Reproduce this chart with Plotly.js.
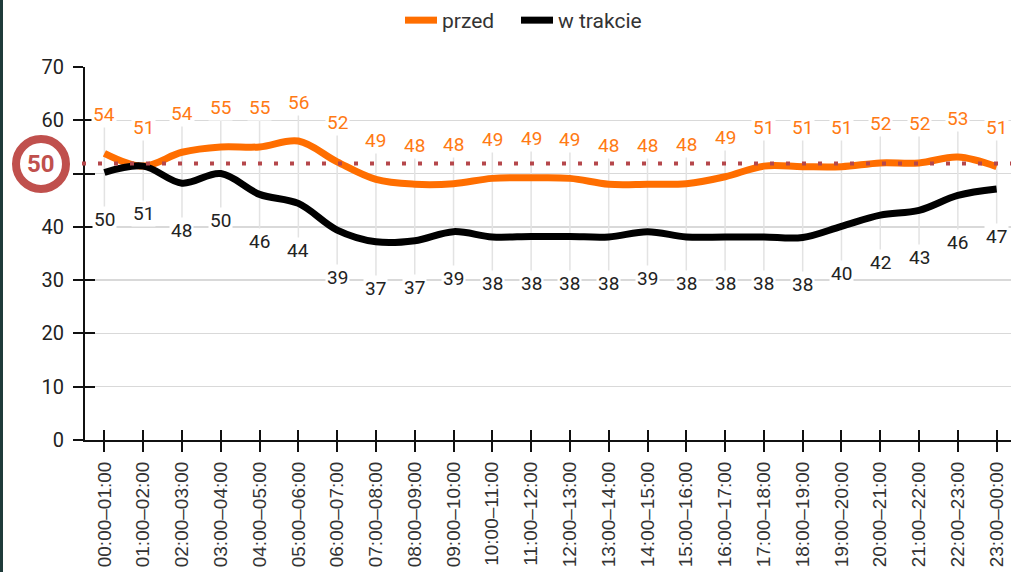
<!DOCTYPE html>
<html>
<head>
<meta charset="utf-8">
<script src="https://cdn.plot.ly/plotly-3.0.1.min.js"></script>
<style>
  html, body { margin: 0; padding: 0; background: #ffffff; }
  #chart { width: 1011px; height: 572px; }
</style>
</head>
<body>
<div id="chart"></div>
<script>
// ---- data ----
const CATEGORIES = [
  "00:00–01:00", "01:00–02:00", "02:00–03:00", "03:00–04:00", "04:00–05:00", "05:00–06:00",
  "06:00–07:00", "07:00–08:00", "08:00–09:00", "09:00–10:00", "10:00–11:00", "11:00–12:00",
  "12:00–13:00", "13:00–14:00", "14:00–15:00", "15:00–16:00", "16:00–17:00", "17:00–18:00",
  "18:00–19:00", "19:00–20:00", "20:00–21:00", "21:00–22:00", "22:00–23:00", "23:00–00:00"
];
const PRZED = [53.8, 51.4, 54.0, 55.0, 55.0, 56.1, 52.2, 48.9, 48.0, 48.1, 49.1, 49.2,
               49.1, 48.0, 48.0, 48.1, 49.4, 51.4, 51.3, 51.3, 52.0, 52.0, 53.1, 51.3];
const W_TRAKCIE = [50.2, 51.4, 48.2, 50.0, 46.1, 44.4, 39.4, 37.2, 37.4, 39.1, 38.1, 38.2,
                   38.2, 38.1, 39.1, 38.1, 38.1, 38.1, 38.0, 40.1, 42.2, 43.1, 45.9, 47.1];
const PRZED_LABELS = [54, 51, 54, 55, 55, 56, 52, 49, 48, 48, 49, 49, 49, 48, 48, 48, 49, 51, 51, 51, 52, 52, 53, 51];
const W_TRAKCIE_LABELS = [50, 51, 48, 50, 46, 44, 39, 37, 37, 39, 38, 38, 38, 38, 39, 38, 38, 38, 38, 40, 42, 43, 46, 47];
const SERIES_NAMES = ["przed", "w trakcie"];
const Y_TICKS = [0, 10, 20, 30, 40, 50, 60, 70];
const Y_TICK_TEXT = ["0", "10", "20", "30", "40", "", "60", "70"];
const THRESHOLD_LINE = 51.9;
const THRESHOLD_LABEL = "50";

// ---- style ----
const ORANGE = "#ff6e00";
const ORANGE_TEXT = "#ff7a14";
const BLACK = "#000000";
const RED = "#c0504d";
const M = { l: 85, r: 0, t: 67, b: 132 };
const W = 1011, H = 572;
const Y_RANGE = [0, 70];
const X_RANGE = [-0.5, 23.37];
const plotH = H - M.t - M.b;
const pxPerUnit = plotH / (Y_RANGE[1] - Y_RANGE[0]);
const paperX = px => (px - M.l) / (W - M.l - M.r);
const paperY = py => (H - M.b - py) / plotH;
const UP_SHIFT = 39, DOWN_SHIFT = 47;

const idx = CATEGORIES.map((_, i) => i);

// vertical connectors between the labels
const connX = [], connY = [];
idx.forEach(i => {
  connX.push(i, i, null);
  connY.push(PRZED[i] + UP_SHIFT / pxPerUnit, W_TRAKCIE[i] - DOWN_SHIFT / pxPerUnit, null);
});

const traces = [
  { x: connX, y: connY, mode: "lines", line: { color: "#e3e3e3", width: 1.5 },
    hoverinfo: "skip", showlegend: false },
  { x: idx, y: PRZED, name: SERIES_NAMES[0], mode: "lines", legend: "legend",
    line: { color: ORANGE, width: 7, shape: "spline", smoothing: 1 } },
  { x: idx, y: W_TRAKCIE, name: SERIES_NAMES[1], mode: "lines", legend: "legend2",
    line: { color: BLACK, width: 7, shape: "spline", smoothing: 1 } },
  { x: [0], y: [0], xaxis: "x2", yaxis: "y2", mode: "lines", line: { width: 0 },
    hoverinfo: "skip", showlegend: false }
];

const annotations = [];
idx.forEach(i => {
  annotations.push({ x: i, y: PRZED[i], xref: "x", yref: "y", text: String(PRZED_LABELS[i]),
    showarrow: false, yshift: UP_SHIFT, bgcolor: "#ffffff", borderpad: 1,
    font: { family: "Roboto", size: 19, color: ORANGE_TEXT } });
  annotations.push({ x: i, y: W_TRAKCIE[i], xref: "x", yref: "y", text: String(W_TRAKCIE_LABELS[i]),
    showarrow: false, yshift: -DOWN_SHIFT, bgcolor: "#ffffff", borderpad: 1,
    font: { family: "Roboto", size: 19, color: "#222222" } });
});
annotations.push({ x: paperX(41), y: paperY(164), xref: "paper", yref: "paper",
  xanchor: "center", yanchor: "middle",
  text: "<b>" + THRESHOLD_LABEL + "</b>", showarrow: false,
  font: { family: "Roboto", size: 24, color: RED } });

const shapes = [
  { type: "rect", xref: "paper", yref: "paper", x0: paperX(0), x1: paperX(3), y0: -0.5, y1: 1.3,
    fillcolor: "#1f3b3a", line: { width: 0 }, layer: "below" },
  { type: "line", xref: "paper", yref: "y", x0: paperX(82), x1: 1, y0: THRESHOLD_LINE, y1: THRESHOLD_LINE,
    line: { color: "#b5474b", width: 4, dash: "4px,12px" }, layer: "above" },
  { type: "circle", xref: "paper", yref: "paper",
    x0: paperX(41 - 25), x1: paperX(41 + 25), y0: paperY(164 + 25), y1: paperY(164 - 25),
    fillcolor: "#ffffff", line: { color: RED, width: 8 }, layer: "below" }
];

const legendBase = { orientation: "h", xanchor: "left", yanchor: "top", y: paperY(0),
  font: { family: "Roboto", size: 21, color: "#333333" }, itemwidth: 32 };

const layout = {
  width: W, height: H,
  margin: M,
  paper_bgcolor: "#ffffff", plot_bgcolor: "rgba(0,0,0,0)",
  showlegend: true,
  legend: Object.assign({}, legendBase, { x: paperX(400) }),
  legend2: Object.assign({}, legendBase, { x: paperX(516) }),
  xaxis: {
    range: X_RANGE, tickvals: idx, ticktext: CATEGORIES, tickangle: -90,
    showgrid: false, zeroline: false, showline: true, linecolor: "#111111", linewidth: 2,
    ticks: "outside", ticklen: 10, tickwidth: 2, tickcolor: "#111111",
    tickfont: { family: "Liberation Sans, Arial", size: 19, color: "#333333" },
    ticklabelstandoff: 2
  },
  xaxis2: {
    overlaying: "x", anchor: "y2", side: "bottom", range: X_RANGE, tickvals: idx,
    ticks: "inside", ticklen: 10, tickwidth: 2, tickcolor: "#111111",
    showticklabels: false, showgrid: false, zeroline: false, showline: false
  },
  yaxis: {
    range: Y_RANGE, tickvals: Y_TICKS, ticktext: Y_TICK_TEXT,
    showgrid: true, gridcolor: "#d9d9d9", gridwidth: 1.5, zeroline: false,
    showline: true, linecolor: "#111111", linewidth: 2,
    ticks: "outside", ticklen: 10, tickwidth: 2, tickcolor: "#111111",
    tickfont: { family: "Roboto", size: 20, color: "#222222" },
    ticklabelstandoff: 5
  },
  yaxis2: {
    overlaying: "y", anchor: "x2", side: "left", range: Y_RANGE, tickvals: Y_TICKS,
    ticks: "inside", ticklen: 10, tickwidth: 2, tickcolor: "#111111",
    showticklabels: false, showgrid: false, zeroline: false, showline: false
  },
  annotations: annotations,
  shapes: shapes
};

Plotly.newPlot("chart", traces, layout, { displayModeBar: false, staticPlot: true });
</script>
</body>
</html>
